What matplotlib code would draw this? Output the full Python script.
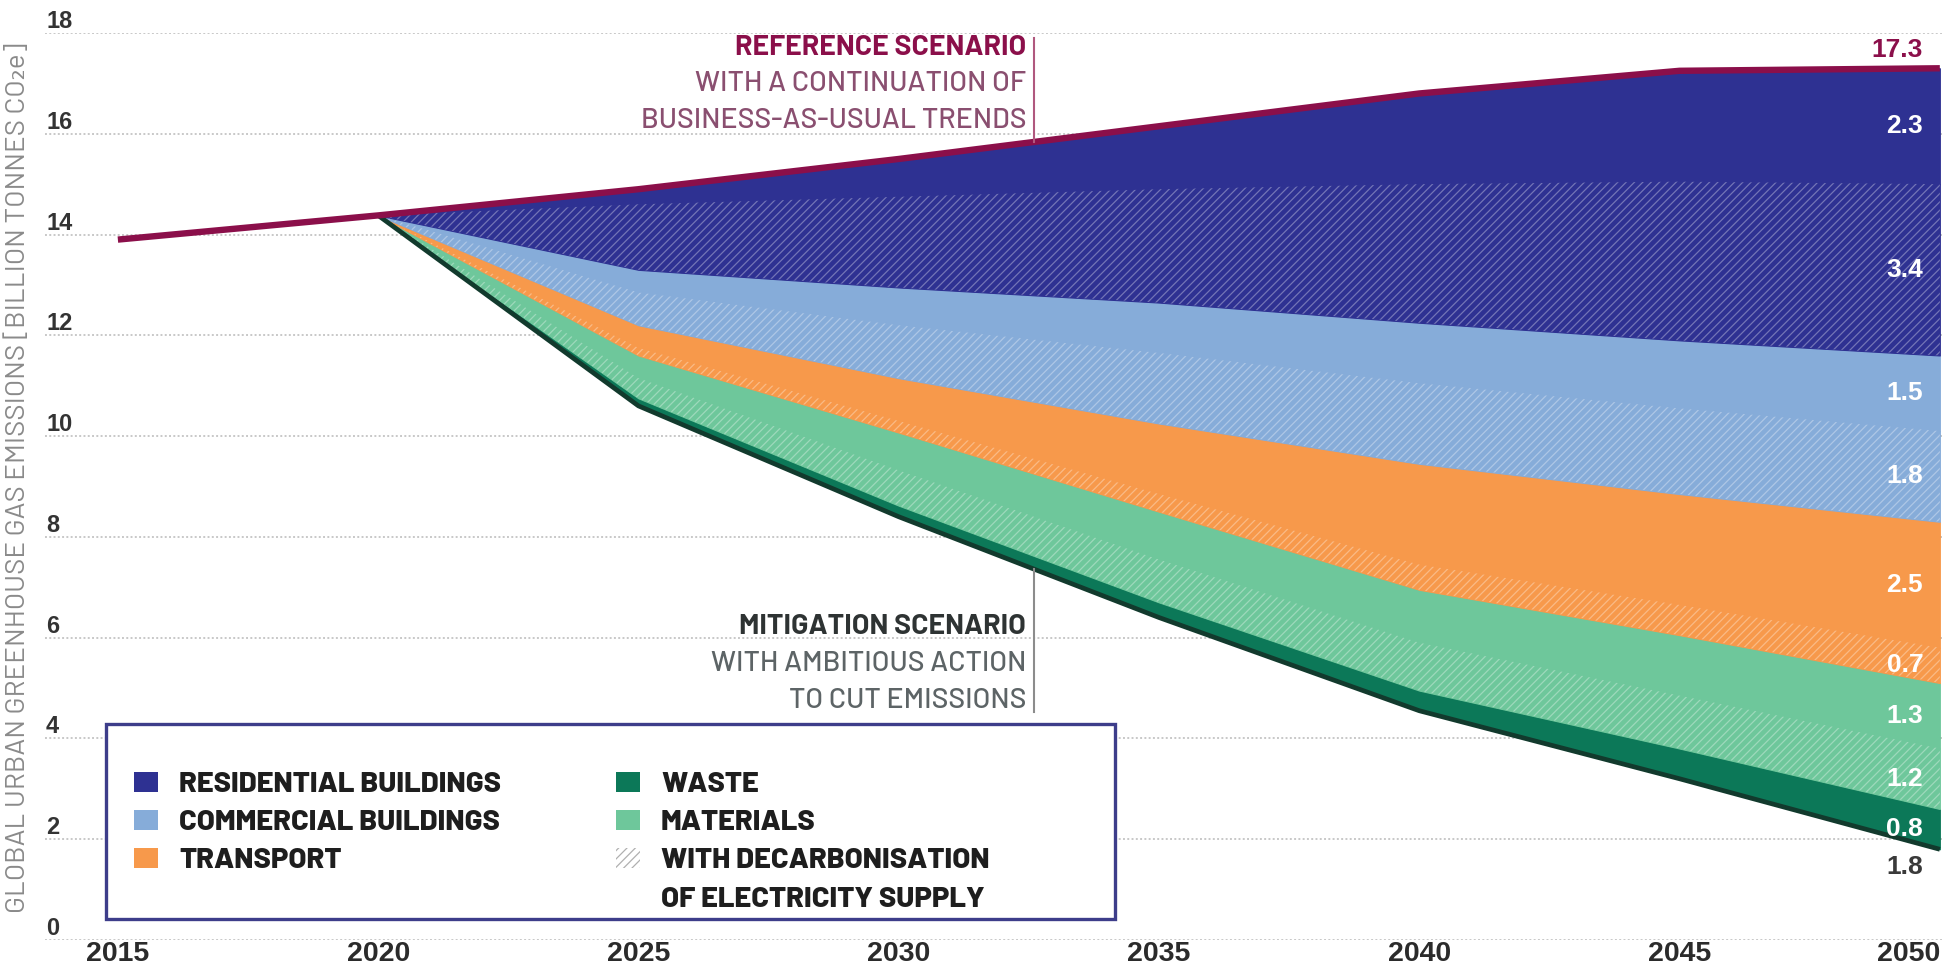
import numpy as np
import matplotlib
matplotlib.use("Agg")
import matplotlib.pyplot as plt
from matplotlib.patches import Patch, Rectangle
from matplotlib.transforms import ScaledTranslation

# reference scenario (business as usual), billion tonnes CO2e
ref_years = [2015, 2020, 2025, 2030, 2035, 2040, 2045, 2050]
reference = [13.9, 14.38, 14.9, 15.5, 16.15, 16.8, 17.25, 17.3]

# mitigation scenario and the savings wedges stacked on top of it
years = [2020, 2025, 2030, 2035, 2040, 2045, 2050]
mitigation = [14.38, 10.6, 8.4, 6.4, 4.55, 3.2, 1.8]
waste = [0, 0.15, 0.22, 0.3, 0.4, 0.6, 0.8]
materials_dec = [0, 0.4, 0.7, 0.85, 0.95, 1.05, 1.2]
materials = [0, 0.45, 0.75, 0.95, 1.05, 1.2, 1.3]
transport_dec = [0, 0.15, 0.23, 0.35, 0.5, 0.6, 0.7]
transport = [0, 0.45, 0.85, 1.4, 2.0, 2.2, 2.5]
commercial_dec = [0, 0.65, 1.05, 1.4, 1.6, 1.7, 1.8]
commercial = [0, 0.45, 0.75, 1.0, 1.2, 1.35, 1.5]
residential_dec = [0, 1.3, 1.8, 2.25, 2.75, 3.15, 3.4]

y_ticks = [0, 2, 4, 6, 8, 10, 12, 14, 16, 18]
x_ticks = [2015, 2020, 2025, 2030, 2035, 2040, 2045, 2050]

FONT = ["Barlow", "DejaVu Sans"]
NUM = ["Liberation Sans", "DejaVu Sans"]

C_RES = "#2e3192"
C_COM = "#86acd9"
C_TRA = "#f7994b"
C_MAT = "#6ec79b"
C_WAS = "#0c7858"
C_REF = "#8b0f4a"
C_MIT = "#123a2d"


def lighten(color, amount):
    rgb = np.array(matplotlib.colors.to_rgb(color))
    return tuple(rgb + (1 - rgb) * amount)


plt.rcParams["hatch.linewidth"] = 0.9

fig = plt.figure(figsize=(19.47, 9.66), dpi=100)
ax = fig.add_axes([45 / 1947, 26 / 966, 1899 / 1947, 907 / 966])
ax.set_xlim(2013.6, 2050.08)
ax.set_ylim(0, 18)

# residential (top wedge) is what is left up to the reference line
layers = [waste, materials_dec, materials, transport_dec, transport,
          commercial_dec, commercial, residential_dec]
stack_sum = np.array(mitigation) + np.sum(layers, axis=0)
residential = list(np.array(reference[1:]) - stack_sum)

wedges = [
    (waste, C_WAS, False),
    (materials_dec, C_MAT, True),
    (materials, C_MAT, False),
    (transport_dec, C_TRA, True),
    (transport, C_TRA, False),
    (commercial_dec, C_COM, True),
    (commercial, C_COM, False),
    (residential_dec, C_RES, True),
    (residential, C_RES, False),
]

x = np.array(years)
bottom = np.array(mitigation, dtype=float)
bands = []
for vals, color, hatched in wedges:
    top = bottom + np.array(vals)
    ax.fill_between(x, bottom, top, facecolor=color, edgecolor=color, lw=0.8, zorder=2)
    if hatched:
        ax.fill_between(x, bottom, top, facecolor="none", edgecolor=lighten(color, 0.33),
                        hatch="////", lw=0, zorder=2.5)
    bands.append((bottom[-1], top[-1], vals[-1]))
    bottom = top

ax.plot(years, mitigation, color=C_MIT, lw=3.4, zorder=4, solid_capstyle="butt")
ax.plot(ref_years, reference, color=C_REF, lw=4.6, zorder=5, solid_capstyle="butt")

# grid and axes
ax.set_yticks(y_ticks)
ax.set_yticklabels([str(t) for t in y_ticks])
ax.set_xticks(x_ticks)
ax.set_xticklabels([str(t) for t in x_ticks])
ax.grid(axis="y", color="#c8c8c8", lw=1.4, linestyle=(0, (1, 1.2)))
ax.set_axisbelow(True)
for s in ax.spines.values():
    s.set_visible(False)
ax.tick_params(axis="both", length=0, pad=0)
up = ScaledTranslation(1 / 100, 5 / 100, fig.dpi_scale_trans)
for lab in ax.get_yticklabels():
    lab.set_ha("left")
    lab.set_va("baseline")
    lab.set_transform(lab.get_transform() + up)
    lab.set_fontfamily(NUM)
    lab.set_fontweight("bold")
    lab.set_fontsize(17)
    lab.set_color("#333333")
down = ScaledTranslation(0, -21 / 100, fig.dpi_scale_trans)
for lab in ax.get_xticklabels():
    lab.set_va("baseline")
    lab.set_transform(lab.get_transform() + down)
    lab.set_fontfamily(NUM)
    lab.set_fontweight("bold")
    lab.set_fontsize(20.5)
    lab.set_color("#2b2b2b")
ax.get_xticklabels()[-1].set_ha("right")

fig.text(18 / 1947, 0.505, "GLOBAL URBAN GREENHOUSE GAS EMISSIONS [BILLION TONNES CO\u2082e]",
         rotation=90, ha="center", va="center", fontsize=20, color="#8a8a8a",
         family=FONT)

# scenario annotations
ann_x = 2032.45
line_x = 2032.6
ax.plot([line_x, line_x], [17.9, np.interp(line_x, ref_years, reference)],
        color="#b0587e", lw=1.5, zorder=6)
ax.text(ann_x, 17.72, "REFERENCE SCENARIO", ha="right", va="center", fontsize=20.5,
        fontweight="bold", color=C_REF, family=FONT)
ax.text(ann_x, 16.98, "WITH A CONTINUATION OF", ha="right", va="center", fontsize=20.5,
        fontweight="medium", color="#8a4f70", family=FONT)
ax.text(ann_x, 16.25, "BUSINESS-AS-USUAL TRENDS", ha="right", va="center", fontsize=20.5,
        fontweight="medium", color="#8a4f70", family=FONT)

ax.plot([line_x, line_x], [np.interp(line_x, years, mitigation), 4.52],
        color="#8c8c8c", lw=1.5, zorder=6)
ax.text(ann_x, 6.23, "MITIGATION SCENARIO", ha="right", va="center", fontsize=20.5,
        fontweight="bold", color="#2e3333", family=FONT)
ax.text(ann_x, 5.48, "WITH AMBITIOUS ACTION", ha="right", va="center", fontsize=20.5,
        fontweight="medium", color="#5d6466", family=FONT)
ax.text(ann_x, 4.74, "TO CUT EMISSIONS", ha="right", va="center", fontsize=20.5,
        fontweight="medium", color="#5d6466", family=FONT)

# values at 2050
for lo, hi, v in bands:
    ax.annotate(f"{v:.1f}", xy=(years[-1], (lo + hi) / 2), xytext=(-12, 0),
                textcoords="offset points", ha="right", va="center", fontsize=19,
                fontweight="bold", color="white", family=NUM, zorder=7)
ax.annotate(f"{reference[-1]:.1f}", xy=(years[-1], reference[-1]), xytext=(-12, 13.5),
            textcoords="offset points", ha="right", va="center", fontsize=19,
            fontweight="bold", color=C_REF, family=NUM, zorder=7)
ax.annotate(f"{mitigation[-1]:.1f}", xy=(years[-1], mitigation[-1]), xytext=(-12, -12.5),
            textcoords="offset points", ha="right", va="center", fontsize=19,
            fontweight="bold", color="#3a3a3a", family=NUM, zorder=7)

# legend
box = Rectangle((106 / 1947, 47 / 966), 1009 / 1947, 195 / 966, transform=fig.transFigure,
                facecolor="white", edgecolor="#3d3d8a", lw=2.4, zorder=8)
ax.add_patch(box)
blank = Patch(facecolor="none", edgecolor="none", lw=0)
handles = [
    Patch(facecolor=C_RES, lw=0),
    Patch(facecolor=C_COM, lw=0),
    Patch(facecolor=C_TRA, lw=0),
    blank,
    Patch(facecolor=C_WAS, lw=0),
    Patch(facecolor=C_MAT, lw=0),
    Patch(facecolor="white", edgecolor="#b0b0b0", hatch="////", lw=0),
    blank,
]
labels = ["RESIDENTIAL BUILDINGS", "COMMERCIAL BUILDINGS", "TRANSPORT", "",
          "WASTE", "MATERIALS", "WITH DECARBONISATION", "OF ELECTRICITY SUPPLY"]
leg = ax.legend(handles, labels, ncol=2, loc="upper left", bbox_to_anchor=(134 / 1947, 1 - 772 / 966),
                bbox_transform=fig.transFigure, frameon=False, borderpad=0, borderaxespad=0,
                handlelength=0.82, handleheight=0.66, handletextpad=0.72, columnspacing=3.95,
                labelspacing=0.45, prop={"family": FONT, "weight": "heavy", "size": 21})
leg.set_zorder(9)
for t in leg.get_texts():
    t.set_color("#1e1e1e")

fig.savefig("out.png", dpi=100)
